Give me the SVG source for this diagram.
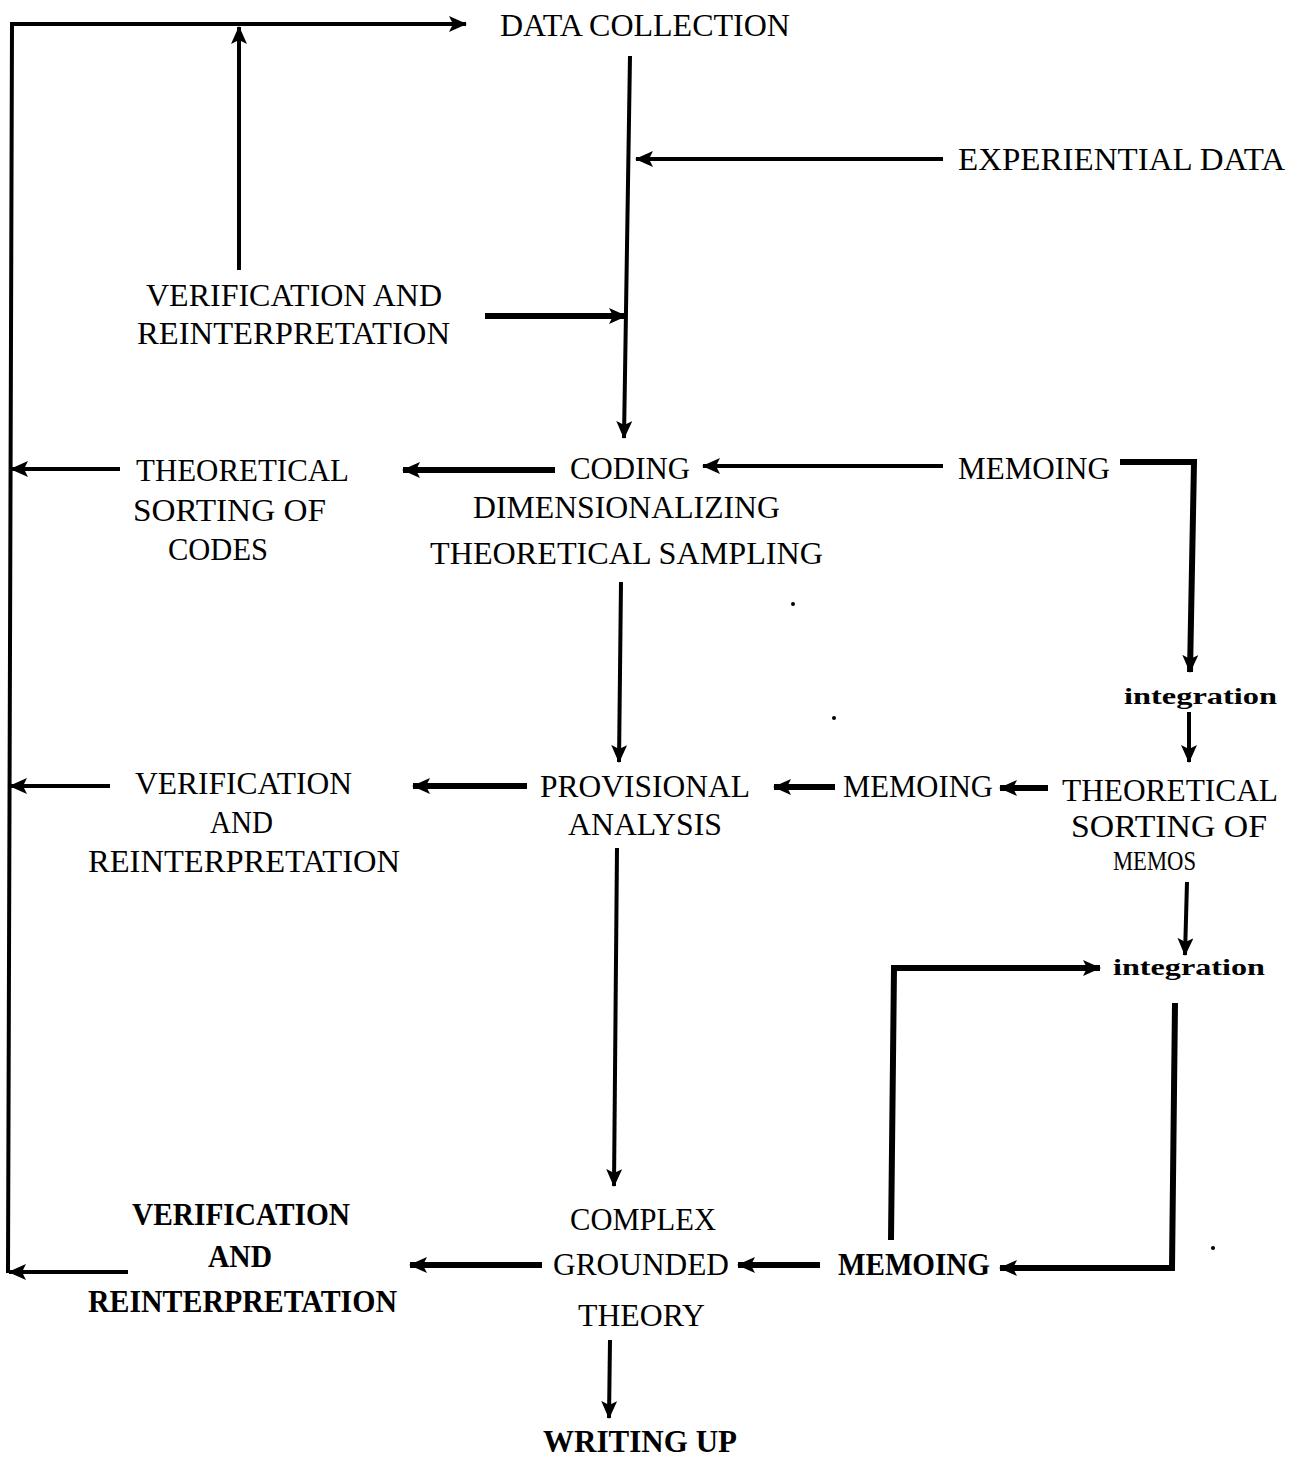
<svg xmlns="http://www.w3.org/2000/svg" width="1292" height="1459" viewBox="0 0 1292 1459">
<style>
  text { font-family: "Liberation Serif", "DejaVu Serif", serif; font-size: 31px; fill: #000; }
  .b { font-weight: bold; }
  .int { font-weight: bold; font-size: 24px; }
  .sm { font-size: 28px; }
  .c path { fill: none; stroke: #000; stroke-width: 4; stroke-linejoin: miter; }
  .c .a { marker-end: url(#ah); }
  .c .thick { stroke-width: 6; }
</style>
<defs>
  <marker id="ah" viewBox="0 0 18 16" refX="17" refY="8" markerWidth="18" markerHeight="16" markerUnits="userSpaceOnUse" orient="auto">
    <path d="M0,0 L18,8 L0,16 L4,8 z" fill="#000"/>
  </marker>
</defs>
<rect width="1292" height="1459" fill="#fff"/>

<g id="connectors" class="c">
  <path class="a" d="M8,1273 L12,24 L466,24"/>
  <path class="a" d="M239,270 L239,27"/>
  <path class="a" d="M630,56 L624,438"/>
  <path class="a" d="M943,159 L636,159"/>
  <path class="a thick" d="M485,316 L626,316"/>
  <path class="a" d="M120,469 L11,469"/>
  <path class="a thick" d="M555,470 L403,470"/>
  <path class="a" d="M943,466 L703,466"/>
  <path class="a thick" d="M1120,462 L1194,462 L1190,672"/>
  <path class="a" d="M1189,712 L1189,762"/>
  <path class="a" d="M621,582 L619,762"/>
  <path class="a thick" d="M527,786 L413,786"/>
  <path class="a" d="M110,786 L10,786"/>
  <path class="a thick" d="M835,787 L774,787"/>
  <path class="a thick" d="M1048,788 L1000,788"/>
  <path class="a" d="M1187,882 L1185,955"/>
  <path class="a" d="M617,848 L614,1186"/>
  <path class="a thick" d="M891,1240 L894,968 L1100,968"/>
  <path class="a thick" d="M1175,1003 L1172,1268 L1000,1268"/>
  <path class="a thick" d="M820,1265 L738,1265"/>
  <path class="a thick" d="M542,1265 L410,1265"/>
  <path class="a" d="M128,1272 L9,1272"/>
  <path class="a" d="M610,1340 L609,1418"/>
</g>

<g id="specks" fill="#000">
  <circle cx="793" cy="604" r="2"/>
  <circle cx="834" cy="718" r="2"/>
  <circle cx="1213" cy="1248" r="2"/>
</g>

<g id="data-collection"><text x="500" y="36" textLength="290" lengthAdjust="spacingAndGlyphs">DATA COLLECTION</text></g>
<g id="experiential-data"><text x="958" y="170" textLength="327" lengthAdjust="spacingAndGlyphs">EXPERIENTIAL DATA</text></g>
<g id="verification-1">
  <text x="146" y="306" textLength="296" lengthAdjust="spacingAndGlyphs">VERIFICATION AND</text>
  <text x="137" y="344" textLength="313" lengthAdjust="spacingAndGlyphs">REINTERPRETATION</text>
</g>
<g id="sorting-codes">
  <text x="136" y="481" textLength="213" lengthAdjust="spacingAndGlyphs">THEORETICAL</text>
  <text x="133" y="521" textLength="193" lengthAdjust="spacingAndGlyphs">SORTING OF</text>
  <text x="168" y="560" textLength="100" lengthAdjust="spacingAndGlyphs">CODES</text>
</g>
<g id="coding">
  <text x="570" y="479" textLength="120" lengthAdjust="spacingAndGlyphs">CODING</text>
  <text x="473" y="518" textLength="307" lengthAdjust="spacingAndGlyphs">DIMENSIONALIZING</text>
  <text x="430" y="564" textLength="393" lengthAdjust="spacingAndGlyphs">THEORETICAL SAMPLING</text>
</g>
<g id="memoing-1"><text x="958" y="479" textLength="152" lengthAdjust="spacingAndGlyphs">MEMOING</text></g>
<g id="integration-1"><text class="int" x="1124" y="704" textLength="153" lengthAdjust="spacingAndGlyphs">integration</text></g>
<g id="verification-2">
  <text x="135" y="794" textLength="217" lengthAdjust="spacingAndGlyphs">VERIFICATION</text>
  <text x="210" y="833" textLength="63" lengthAdjust="spacingAndGlyphs">AND</text>
  <text x="88" y="872" textLength="312" lengthAdjust="spacingAndGlyphs">REINTERPRETATION</text>
</g>
<g id="provisional-analysis">
  <text x="540" y="797" textLength="210" lengthAdjust="spacingAndGlyphs">PROVISIONAL</text>
  <text x="568" y="835" textLength="154" lengthAdjust="spacingAndGlyphs">ANALYSIS</text>
</g>
<g id="memoing-2"><text x="843" y="797" textLength="150" lengthAdjust="spacingAndGlyphs">MEMOING</text></g>
<g id="sorting-memos">
  <text x="1062" y="801" textLength="216" lengthAdjust="spacingAndGlyphs">THEORETICAL</text>
  <text x="1071" y="837" textLength="196" lengthAdjust="spacingAndGlyphs">SORTING OF</text>
  <text class="sm" x="1113" y="870" textLength="83" lengthAdjust="spacingAndGlyphs">MEMOS</text>
</g>
<g id="integration-2"><text class="int" x="1113" y="975" textLength="152" lengthAdjust="spacingAndGlyphs">integration</text></g>
<g id="verification-3">
  <text class="b" x="132" y="1225" textLength="218" lengthAdjust="spacingAndGlyphs">VERIFICATION</text>
  <text class="b" x="208" y="1267" textLength="64" lengthAdjust="spacingAndGlyphs">AND</text>
  <text class="b" x="88" y="1312" textLength="309" lengthAdjust="spacingAndGlyphs">REINTERPRETATION</text>
</g>
<g id="complex-grounded-theory">
  <text x="570" y="1230" textLength="146" lengthAdjust="spacingAndGlyphs">COMPLEX</text>
  <text x="553" y="1275" textLength="176" lengthAdjust="spacingAndGlyphs">GROUNDED</text>
  <text x="578" y="1326" textLength="127" lengthAdjust="spacingAndGlyphs">THEORY</text>
</g>
<g id="memoing-3"><text class="b" x="838" y="1275" textLength="152" lengthAdjust="spacingAndGlyphs">MEMOING</text></g>
<g id="writing-up"><text class="b" x="543" y="1452" textLength="194" lengthAdjust="spacingAndGlyphs">WRITING UP</text></g>
</svg>
